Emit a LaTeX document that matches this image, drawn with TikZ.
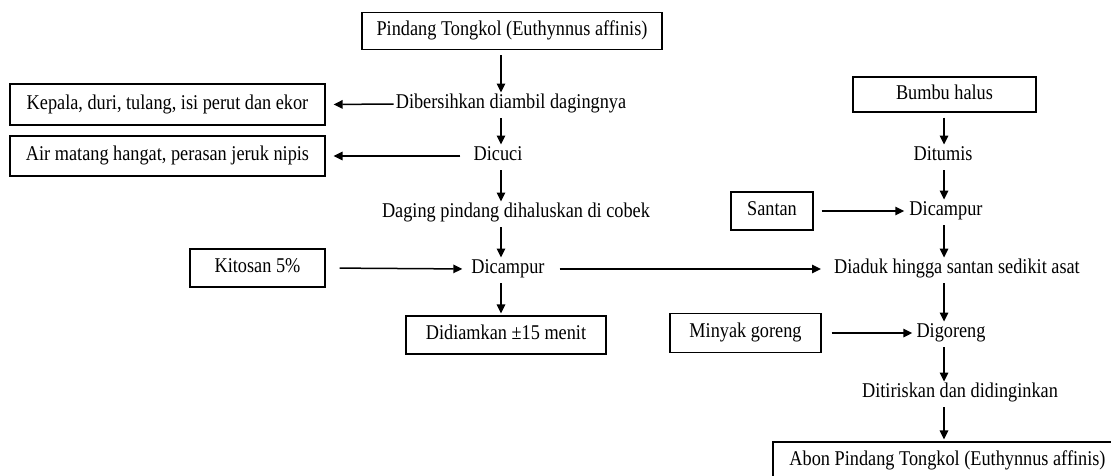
\documentclass[tikz,border=0pt]{standalone}
\usepackage{fontspec}
\setmainfont{Liberation Serif}[FakeStretch=0.87]
\usetikzlibrary{arrows.meta}
\begin{document}
\begin{tikzpicture}[x=1pt,y=-1pt,
  font=\fontsize{21}{23}\selectfont,
  every node/.style={inner sep=0pt, text height=14pt, text depth=4.5pt},
  stepbox/.style={draw, line width=1.3pt, align=center},
  arr/.style={line width=1.5pt, -{Triangle[length=9pt,width=8.5pt]}},
  down/.style={arr, shorten <=5pt, shorten >=2pt},
  side/.style={arr, shorten <=10pt, shorten >=7pt}]
\useasboundingbox (0,0) rectangle (1111,475);
\clip (0,0) rectangle (1111,475);

% column guides for the vertical arrows
\coordinate (colL) at (501,0);
\coordinate (colR) at (944,0);

% left column
\node[stepbox, minimum width=300pt, minimum height=37pt] (ptk) at (512,31) {Pindang Tongkol (Euthynnus affinis)};
\node (dib) at (511,104) {Dibersihkan diambil dagingnya};
\node[stepbox, minimum width=315pt, minimum height=41pt] (kep) at (167.5,104.5) {Kepala, duri, tulang, isi perut dan ekor};
\node (cuci) at (498,156) {Dicuci};
\node[stepbox, minimum width=315pt, minimum height=40pt] (air) at (167.5,156) {Air matang hangat, perasan jeruk nipis};
\node (hal) at (516,213) {Daging pindang dihaluskan di cobek};
\node (campA) at (508,269) {Dicampur};
\node[stepbox, minimum width=135pt, minimum height=38pt] (kit) at (257.5,268) {Kitosan 5\%};
\node[stepbox, minimum width=200pt, minimum height=38pt] (diam) at (506,335) {Didiamkan ±15 menit};

% right column
\node[stepbox, minimum width=183pt, minimum height=35pt] (bumbu) at (944.5,94.5) {Bumbu halus};
\node (tumis) at (943,156) {Ditumis};
\node (campB) at (946,211) {Dicampur};
\node[stepbox, minimum width=82pt, minimum height=38pt] (santan) at (772,211) {Santan};
\node (aduk) at (957,269) {Diaduk hingga santan sedikit asat};
\node (goreng) at (951,333) {Digoreng};
\node[stepbox, minimum width=151pt, minimum height=39pt] (minyak) at (745.5,333) {Minyak goreng};
\node (tiris) at (960,393) {Ditiriskan dan didinginkan};
\node[stepbox, minimum width=349pt, minimum height=38pt] (abon) at (947.5,461) {Abon Pindang Tongkol (Euthynnus affinis)};

% left flow
\draw[down] (ptk.south -| colL) -- (dib.north -| colL);
\draw[down] (dib.south -| colL) -- (cuci.north -| colL);
\draw[down] (cuci.south -| colL) -- (hal.north -| colL);
\draw[down] (hal.south -| colL) -- (campA.north -| colL);
\draw[down] (campA.south -| colL) -- (diam.north -| colL);
\draw[arr, shorten <=2pt, shorten >=8pt] (dib.west) -- (kep.east);
\draw[arr, shorten <=13pt, shorten >=8pt] (cuci.west) -- (air.east);
\draw[arr, shorten <=14pt, shorten >=9pt] (kit.east) -- (campA.west);
\draw[arr, shorten <=15pt, shorten >=13pt] (campA.east) -- (aduk.west);

% right flow
\draw[down] (bumbu.south -| colR) -- (tumis.north -| colR);
\draw[down] (tumis.south -| colR) -- (campB.north -| colR);
\draw[down] (campB.south -| colR) -- (aduk.north -| colR);
\draw[down] (aduk.south -| colR) -- (goreng.north -| colR);
\draw[down] (goreng.south -| colR) -- (tiris.north -| colR);
\draw[down] (tiris.south -| colR) -- (abon.north -| colR);
\draw[arr, shorten <=8pt, shorten >=5pt] (santan.east) -- (campB.west);
\draw[arr, shorten <=10pt, shorten >=4pt] (minyak.east) -- (goreng.west);
\end{tikzpicture}
\end{document}
